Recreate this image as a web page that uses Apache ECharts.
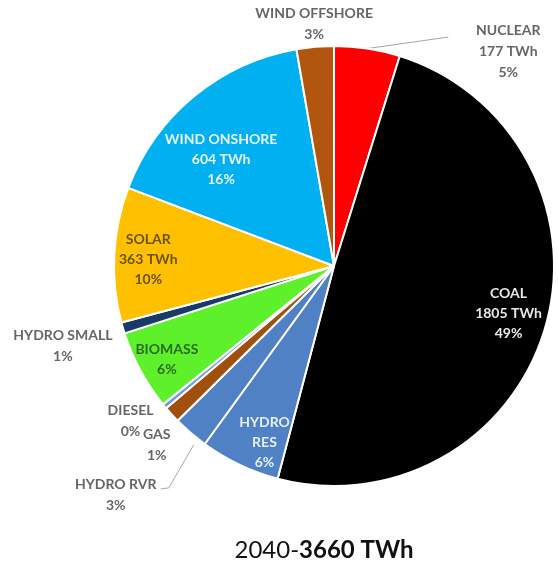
<!DOCTYPE html>
<html>
<head>
<meta charset="utf-8">
<script src="https://cdn.jsdelivr.net/npm/echarts@6/dist/echarts.min.js"></script>
<style>
  html, body { margin: 0; padding: 0; background: #ffffff; }
  #chart { width: 558px; height: 564px; }
</style>
</head>
<body>
<div id="chart"></div>
<script>
// Electricity generation mix in 2040, TWh per source (clockwise from 12 o'clock)
const categories = ['NUCLEAR', 'COAL', 'HYDRO RES', 'HYDRO RVR', 'GAS', 'DIESEL',
  'BIOMASS', 'HYDRO SMALL', 'SOLAR', 'WIND ONSHORE', 'WIND OFFSHORE'];
const generationTWh = [177, 1805, 215, 95, 45, 13, 215, 30, 363, 604, 100];
// Sources whose label also states the amount in TWh
const labelledWithTWh = ['NUCLEAR', 'COAL', 'SOLAR', 'WIND ONSHORE'];
const titleParts = ['2040-', '3660 TWh'];

// ---- styling ----
const sliceColors = {
  'NUCLEAR': '#ff0000', 'COAL': '#000000', 'HYDRO RES': '#4f81c4', 'HYDRO RVR': '#4f81c4',
  'GAS': '#a0500c', 'DIESEL': '#6c9bd6', 'BIOMASS': '#5ef02a', 'HYDRO SMALL': '#173a66',
  'SOLAR': '#ffc000', 'WIND ONSHORE': '#00b0f0', 'WIND OFFSHORE': '#b0560f'
};
// Labels drawn inside their slice, with their text colour
const insideLabelColors = {
  'COAL': '#e8e8e8', 'HYDRO RES': '#e6eefa', 'BIOMASS': '#2f6b1c',
  'SOLAR': '#6b5208', 'WIND ONSHORE': '#e9f6fd'
};
// Outside labels: shift of the label centre from the slice's outer edge point
const outsideShift = {
  'WIND OFFSHORE': [-1, -23], 'NUCLEAR': [141, 2.5], 'HYDRO SMALL': [-60, 18],
  'DIESEL': [-34, 15], 'GAS': [-15, 30], 'HYDRO RVR': [-75, 62]
};
// Leader lines, relative to the slice's outer edge point
const leaderLines = {
  'NUCLEAR': [[0, 0], [81, -11.5]],
  'HYDRO RVR': [[3, 12], [-22, 55], [-30, 56]]
};
// Nudges for labels inside the slices
const insideShift = {
  'WIND ONSHORE': [8, 40], 'COAL': [-8, -5], 'HYDRO RES': [12, 5], 'SOLAR': [4, 3], 'BIOMASS': [0, 3]
};
const displayName = { 'HYDRO RES': 'HYDRO\nRES' };

const FONT = 'Lato, "Open Sans", sans-serif';

function labelText(p) {
  const name = displayName[p.name] || p.name;
  const lines = [name];
  if (labelledWithTWh.includes(p.name)) lines.push(p.value + ' TWh');
  lines.push(p.percent + '%');
  return lines.join('\n');
}

const pieData = categories.map((name, i) => ({ name, value: generationTWh[i] }));

const chart = echarts.init(document.getElementById('chart'), null, { renderer: 'canvas' });

chart.setOption({
  backgroundColor: '#ffffff',
  animation: false,
  title: {
    text: '{a|' + titleParts[0] + '}{b|' + titleParts[1] + '}',
    left: 319,
    textAlign: 'center',
    top: 533,
    textStyle: {
      rich: {
        a: { fontFamily: FONT, fontSize: 24, color: '#111111', fontWeight: 'normal' },
        b: { fontFamily: FONT, fontSize: 24, color: '#111111', fontWeight: 'bold' }
      }
    }
  },
  series: [
    {
      // the pie itself, with the labels that sit outside it
      type: 'pie',
      center: [334, 266],
      radius: 220,
      startAngle: 90,
      clockwise: true,
      avoidLabelOverlap: false,
      percentPrecision: 0,
      emphasis: { disabled: true },
      itemStyle: { borderColor: '#ffffff', borderWidth: 2 },
      label: {
        show: true,
        position: 'outside',
        formatter: labelText,
        fontFamily: FONT,
        fontSize: 14,
        fontWeight: 'bold',
        lineHeight: 21,
        color: '#666666'
      },
      labelLine: { show: true, length: 10, length2: 10, lineStyle: { color: '#a6a6a6', width: 1 } },
      labelLayout: function (p) {
        const name = categories[p.dataIndex];
        const shift = outsideShift[name];
        if (!shift || !p.labelLinePoints) return {};
        const ax = p.labelLinePoints[0][0];
        const ay = p.labelLinePoints[0][1];
        const guide = leaderLines[name] || [[0, 0], [0, 0]];
        return {
          x: ax + shift[0],
          y: ay + shift[1],
          align: 'center',
          verticalAlign: 'middle',
          labelLinePoints: guide.map(g => [ax + g[0], ay + g[1]])
        };
      },
      data: pieData.map(d => ({
        name: d.name,
        value: d.value,
        itemStyle: { color: sliceColors[d.name] },
        label: { show: !!outsideShift[d.name] },
        labelLine: { show: !!outsideShift[d.name] }
      }))
    },
    {
      // transparent ring carrying the labels drawn inside the slices
      type: 'pie',
      center: [334, 266],
      radius: [154, 220],
      startAngle: 90,
      clockwise: true,
      silent: true,
      avoidLabelOverlap: false,
      percentPrecision: 0,
      itemStyle: { color: 'rgba(0,0,0,0)', borderWidth: 0 },
      label: {
        show: true,
        position: 'inside',
        formatter: labelText,
        fontFamily: FONT,
        fontSize: 14,
        fontWeight: 'bold',
        lineHeight: 20
      },
      labelLine: { show: false },
      labelLayout: function (p) {
        const s = insideShift[categories[p.dataIndex]];
        return s ? { dx: s[0], dy: s[1] } : {};
      },
      data: pieData.map(d => ({
        name: d.name,
        value: d.value,
        label: {
          show: !!insideLabelColors[d.name],
          color: insideLabelColors[d.name] || '#000'
        }
      }))
    }
  ]
});
</script>
</body>
</html>
